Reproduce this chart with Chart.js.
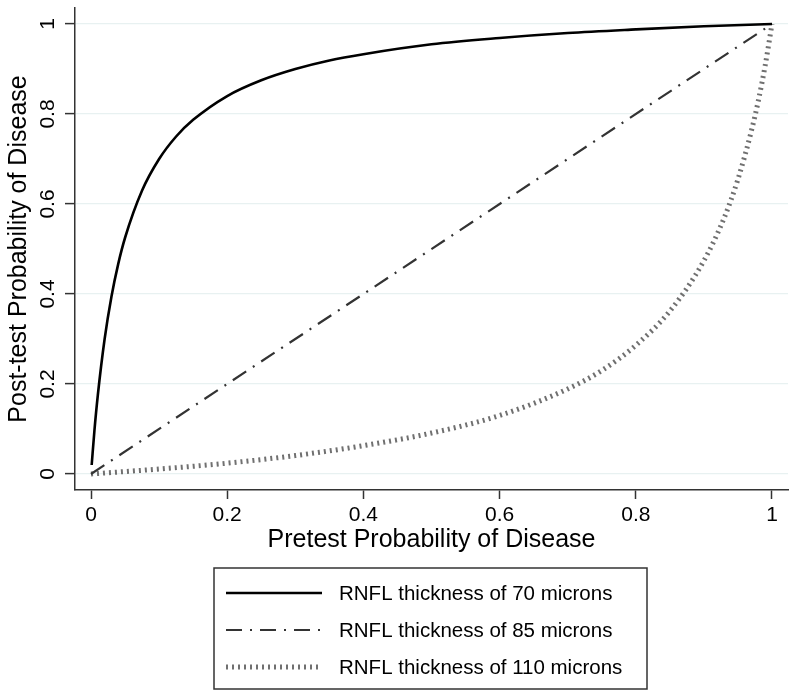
<!DOCTYPE html>
<html>
<head>
<meta charset="utf-8">
<script src="https://cdn.jsdelivr.net/npm/chart.js@4.4.1/dist/chart.umd.min.js"></script>
<style>
  html, body { margin: 0; padding: 0; background: #fff; }
  #wrap { width: 800px; height: 699px; }
</style>
</head>
<body>
<div id="wrap"><canvas id="chart"></canvas></div>
<script>
// Values
const xTicks = [0, 0.2, 0.4, 0.6, 0.8, 1];
const yTicks = [0, 0.2, 0.4, 0.6, 0.8, 1];

const labels70 = 'RNFL thickness of 70 microns';
const labels85 = 'RNFL thickness of 85 microns';
const labels110 = 'RNFL thickness of 110 microns';

const pretest70 = [0.001, 0.005, 0.01, 0.02, 0.03, 0.04, 0.05, 0.075, 0.1, 0.125, 0.15, 0.2, 0.25, 0.3, 0.35, 0.4, 0.5, 0.6, 0.7, 0.8, 0.9, 1];
const posttest70 = [0.02, 0.096, 0.175, 0.30, 0.394, 0.467, 0.525, 0.63, 0.70, 0.75, 0.787, 0.84, 0.875, 0.90, 0.919, 0.933, 0.955, 0.969, 0.98, 0.988, 0.995, 1];

const pretest85 = [0, 1];
const posttest85 = [0, 1];

const pretest110 = [0, 0.1, 0.2, 0.3, 0.4, 0.5, 0.6, 0.7, 0.75, 0.8, 0.85, 0.9, 0.93, 0.95, 0.97, 0.98, 0.99, 1];
const posttest110 = [0, 0.011, 0.024, 0.041, 0.063, 0.091, 0.13, 0.189, 0.23, 0.286, 0.362, 0.474, 0.57, 0.655, 0.764, 0.83, 0.908, 1];

const FONT = 'Liberation Sans, Arial, Helvetica, sans-serif';

function toPoints(xs, ys) {
    return xs.map((x, i) => ({ x: x, y: ys[i] }));
}

// y tick labels in Stata style: rotated, centred on the tick
const rotatedYLabels = {
    id: 'rotatedYLabels',
    afterDraw(chart) {
        const { ctx } = chart;
        const yScale = chart.scales.y;
        ctx.save();
        ctx.fillStyle = '#000';
        ctx.font = '21px ' + FONT;
        ctx.textAlign = 'center';
        ctx.textBaseline = 'middle';
        yTicks.forEach((v) => {
            const py = yScale.getPixelForValue(v);
            ctx.save();
            ctx.translate(48, py);
            ctx.rotate(-Math.PI / 2);
            ctx.fillText(String(v), 0, 0);
            ctx.restore();
        });
        ctx.restore();
    }
};

// boxed legend under the x axis title
const boxedLegend = {
    id: 'boxedLegend',
    afterDraw(chart) {
        const { ctx } = chart;
        const box = { left: 214, top: 568, width: 433, height: 121 };
        ctx.save();
        ctx.strokeStyle = '#333';
        ctx.lineWidth = 1.5;
        ctx.strokeRect(box.left, box.top, box.width, box.height);

        const rows = [593, 630, 667];
        chart.data.datasets.forEach((ds, i) => {
            const y = rows[i];
            ctx.save();
            ctx.strokeStyle = ds.borderColor;
            ctx.lineWidth = ds.borderWidth;
            ctx.setLineDash(ds.borderDash || []);
            ctx.lineCap = 'butt';
            ctx.beginPath();
            ctx.moveTo(226, y);
            ctx.lineTo(322, y);
            ctx.stroke();
            ctx.restore();

            ctx.fillStyle = '#000';
            ctx.font = '20.5px ' + FONT;
            ctx.textAlign = 'left';
            ctx.textBaseline = 'middle';
            ctx.fillText(ds.label, 339, y + 1);
        });
        ctx.restore();
    }
};

const ctx = document.getElementById('chart');
new Chart(ctx, {
    type: 'line',
    data: {
        datasets: [{
            label: labels70,
            data: toPoints(pretest70, posttest70),
            borderColor: '#000000',
            borderWidth: 2.6,
            cubicInterpolationMode: 'monotone',
            pointRadius: 0,
            fill: false
        }, {
            label: labels85,
            data: toPoints(pretest85, posttest85),
            borderColor: '#333333',
            borderWidth: 2.2,
            borderDash: [16, 8, 2, 8],
            pointRadius: 0,
            fill: false
        }, {
            label: labels110,
            data: toPoints(pretest110, posttest110),
            borderColor: '#707070',
            borderWidth: 5,
            borderDash: [2, 4],
            borderCapStyle: 'butt',
            cubicInterpolationMode: 'monotone',
            pointRadius: 0,
            fill: false
        }]
    },
    options: {
        responsive: true,
        maintainAspectRatio: false,
        animation: false,
        layout: {
            padding: { left: 0, right: 12, top: 8, bottom: 0 }
        },
        scales: {
            x: {
                type: 'linear',
                min: -0.0235,
                max: 1.0235,
                afterBuildTicks: (scale) => {
                    scale.ticks = xTicks.map((v) => ({ value: v }));
                },
                afterFit: (scale) => {
                    scale.height = 209;
                },
                grid: {
                    drawOnChartArea: false,
                    tickLength: 9,
                    tickColor: '#333',
                    tickWidth: 1.5
                },
                border: {
                    color: '#333',
                    width: 1.5
                },
                ticks: {
                    color: '#000',
                    padding: 4,
                    maxRotation: 0,
                    font: { family: FONT, size: 21 },
                    callback: (value) => String(value)
                },
                title: {
                    display: true,
                    text: 'Pretest Probability of Disease',
                    color: '#000',
                    font: { family: FONT, size: 25 },
                    padding: { top: 0, bottom: 144 }
                }
            },
            y: {
                type: 'linear',
                min: -0.0356,
                max: 1.0356,
                afterBuildTicks: (scale) => {
                    scale.ticks = yTicks.map((v) => ({ value: v }));
                },
                afterFit: (scale) => {
                    scale.width = 75;
                },
                grid: {
                    color: '#e8f1f1',
                    lineWidth: 1.2,
                    tickLength: 10,
                    tickColor: '#333',
                    tickWidth: 1.5
                },
                border: {
                    color: '#333',
                    width: 1.5
                },
                ticks: {
                    display: false
                },
                title: {
                    display: true,
                    text: 'Post-test Probability of Disease',
                    color: '#000',
                    font: { family: FONT, size: 25 },
                    padding: { top: 4, bottom: 0 }
                }
            }
        },
        plugins: {
            legend: { display: false },
            tooltip: { enabled: false }
        }
    },
    plugins: [rotatedYLabels, boxedLegend]
});
</script>
</body>
</html>
